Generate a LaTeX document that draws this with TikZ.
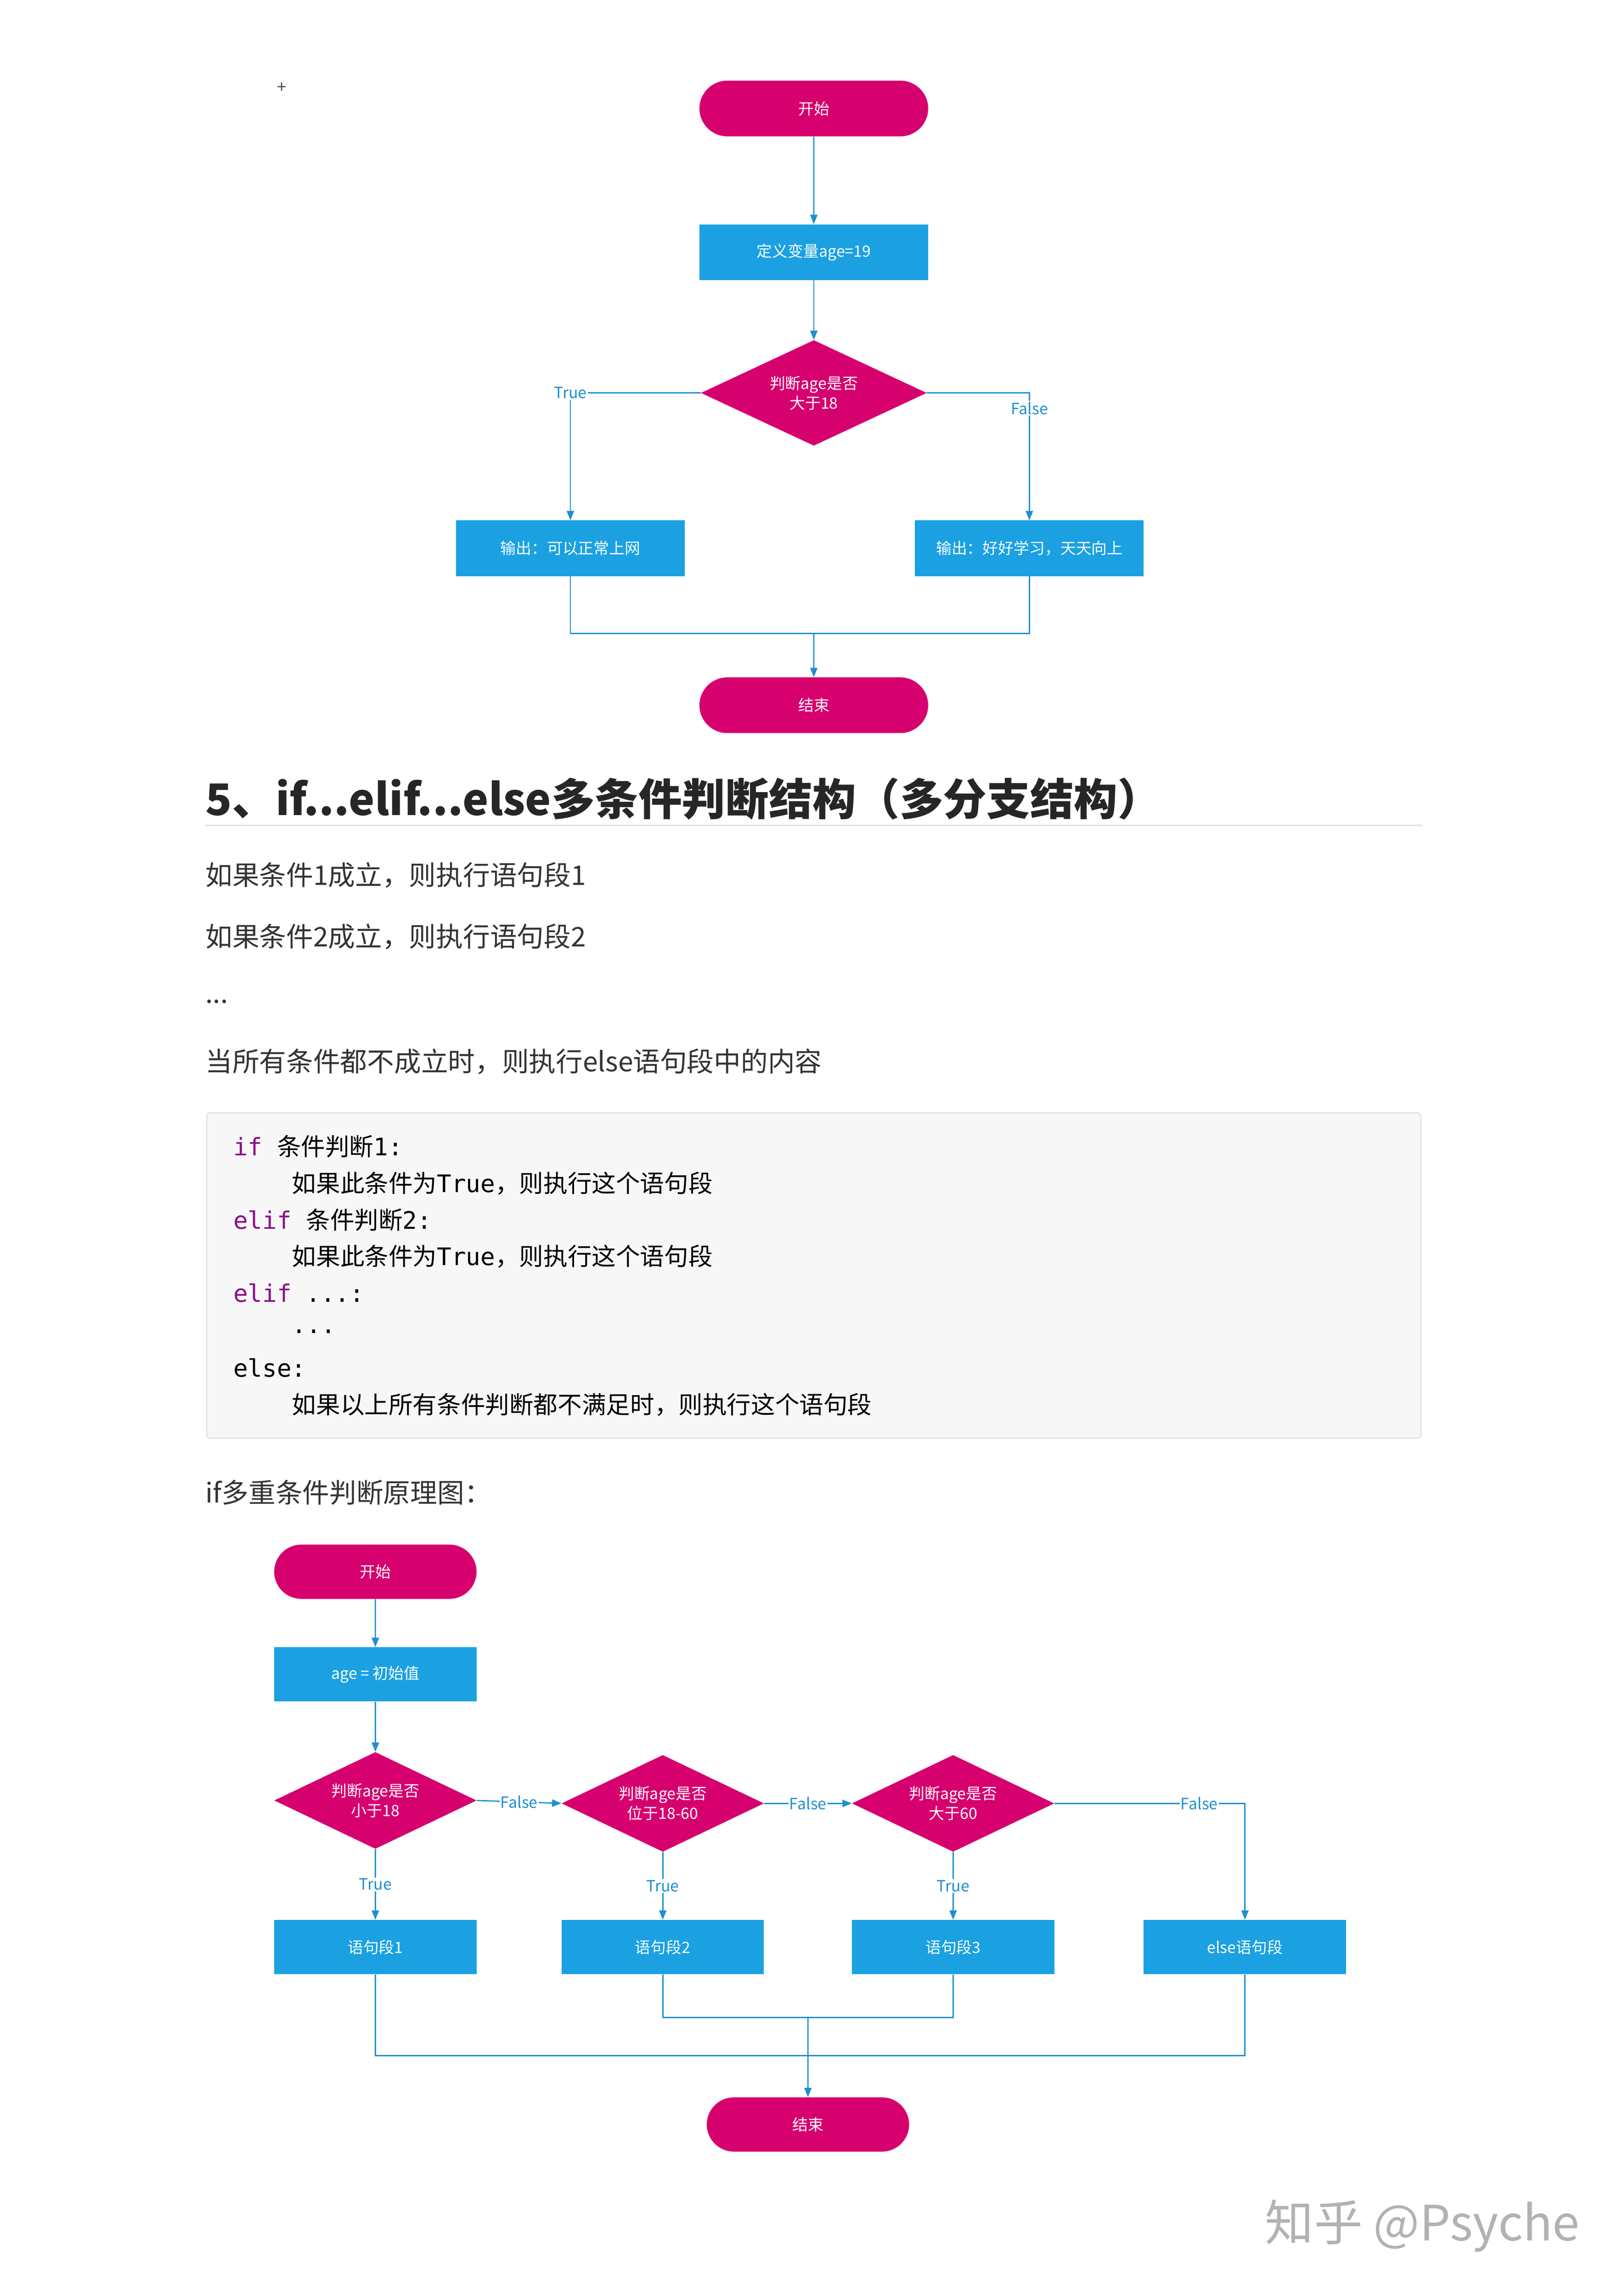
\documentclass[tikz,border=0pt]{standalone}
\usepackage{fontspec}
\setmainfont{Noto Sans CJK SC}
\newfontfamily\cjk{Noto Sans CJK SC}
\setmonofont{DejaVu Sans Mono}
\usetikzlibrary{shapes.geometric,shapes.misc,arrows.meta}
\definecolor{mag}{HTML}{D6006F}
\definecolor{fblue}{HTML}{1BA1E2}
\definecolor{lblue}{HTML}{1E8FCF}
\definecolor{kw}{HTML}{8B0E8B}
\begin{document}
\begin{tikzpicture}[x=0.0497cm,y=-0.0497cm,
  term/.style={rounded rectangle,fill=mag,text=white,minimum width=156*0.0497cm,minimum height=38*0.0497cm,inner sep=0pt,font=\fontsize{15}{18}\selectfont},
  box/.style={rectangle,fill=fblue,text=white,minimum width=156*0.0497cm,minimum height=38*0.0497cm,inner sep=0pt,font=\fontsize{15}{18}\selectfont},
  dec/.style={diamond,fill=mag,text=white,aspect=2.1,minimum width=154*0.0497cm,minimum height=72*0.0497cm,inner sep=0pt,align=center,font=\fontsize{15}{19}\selectfont},
  sterm/.style={term,minimum width=138*0.0497cm,minimum height=37*0.0497cm},
  sbox/.style={box,minimum width=138*0.0497cm,minimum height=37*0.0497cm},
  sdec/.style={dec,minimum width=138*0.0497cm,minimum height=66*0.0497cm},
  ln/.style={draw=lblue,line width=1.2pt},
  ar/.style={ln,-{Triangle[length=9pt,width=7pt]}},
  lab/.style={fill=white,text=lblue,inner sep=1pt,font=\fontsize{15}{18}\selectfont},
  body/.style={anchor=west,inner sep=0pt,text=black!80,font=\fontsize{26}{30}\selectfont},
  code/.style={anchor=west,inner sep=0pt,font=\fontsize{23.3}{28}\selectfont}]
\useasboundingbox (0,0) rectangle (1106.6,1566);
\fill[white] (0,0) rectangle (1106.6,1566);
\node[font=\fontsize{16}{16}\selectfont,text=black!70] (plus) at (192,60) {+};
% top chart
\node[term] (s) at (555,74) {开始};
\node[box] (def) at (555,172) {定义变量age=19};
\node[dec] (d) at (555,268) {判断age是否\\大于18};
\node[box] (o1) at (389,374) {输出：可以正常上网};
\node[box] (o2) at (702,374) {输出：好好学习，天天向上};
\node[term] (e) at (555,481) {结束};
\draw[ar] (s) -- (def);
\draw[ar] (def) -- (d);
\draw[ar] (d.west) -| node[lab,pos=0.5] {True} (o1.north);
\draw[ar] (d.east) -| node[lab,pos=0.56] {False} (o2.north);
\coordinate (j) at (555,432);
\draw[ln] (o1.south) |- (j);
\draw[ln] (o2.south) |- (j);
\draw[ar] (j) -- (e);
% heading
\node[anchor=base west,inner sep=0pt,text=black!85,font=\fontsize{42}{48}\bfseries\selectfont] (h) at (140,556) {5、if...elif...else多条件判断结构（多分支结构）};
\draw[black!12,line width=1pt] (140,563) -- (970,563);
\node[body] (t1) at (140,597) {如果条件1成立，则执行语句段1};
\node[body] (t2) at (140,639) {如果条件2成立，则执行语句段2};
\node[body] (t3) at (140,683) {...};
\node[body] (t4) at (140,724) {当所有条件都不成立时，则执行else语句段中的内容};
% code
\draw[fill=black!3,draw=black!12,line width=1pt,rounded corners=3pt] (141,759) rectangle (969,981);
\node[code] (c1) at (159,782) {\ttfamily\textcolor{kw}{if}\ \cjk 条件判断\ttfamily 1:};
\node[code] (c2) at (199,807) {\cjk 如果此条件为\ttfamily True\cjk ，则执行这个语句段};
\node[code] (c3) at (159,832) {\ttfamily\textcolor{kw}{elif}\ \cjk 条件判断\ttfamily 2:};
\node[code] (c4) at (199,857) {\cjk 如果此条件为\ttfamily True\cjk ，则执行这个语句段};
\node[code] (c5) at (159,882) {\ttfamily\textcolor{kw}{elif}\ ...:};
\node[code] (c6) at (199,908) {\ttfamily ...};
\node[code] (c7) at (159,933) {\ttfamily else:};
\node[code] (c8) at (199,958) {\cjk 如果以上所有条件判断都不满足时，则执行这个语句段};
\node[body] (t5) at (140,1018) {if多重条件判断原理图：};
% bottom chart
\node[sterm] (bs) at (256,1072) {开始};
\node[sbox] (bi) at (256,1142) {age = 初始值};
\node[sdec] (b1) at (256,1228) {判断age是否\\小于18};
\node[sdec] (b2) at (452,1230) {判断age是否\\位于18-60};
\node[sdec] (b3) at (650,1230) {判断age是否\\大于60};
\node[sbox] (p1) at (256,1328) {语句段1};
\node[sbox] (p2) at (452,1328) {语句段2};
\node[sbox] (p3) at (650,1328) {语句段3};
\node[sbox] (p4) at (849,1328) {else语句段};
\node[sterm] (be) at (551,1449) {结束};
\draw[ar] (bs) -- (bi);
\draw[ar] (bi) -- (b1);
\draw[ar] (b1.east) -- node[lab,pos=0.5] {False} (b2.west);
\draw[ar] (b2.east) -- node[lab,pos=0.5] {False} (b3.west);
\draw[ar] (b3.east) -| node[lab,pos=0.38] {False} (p4.north);
\draw[ar] (b1) -- node[lab] {True} (p1);
\draw[ar] (b2) -- node[lab] {True} (p2);
\draw[ar] (b3) -- node[lab] {True} (p3);
\coordinate (k) at (551,1376);
\coordinate (k2) at (551,1402);
\draw[ln] (p2.south) |- (k);
\draw[ln] (p3.south) |- (k);
\draw[ln] (p1.south) |- (k2);
\draw[ln] (p4.south) |- (k2);
\draw[ar] (k) -- (be);
\node[text=black!30,inner sep=0pt,font=\fontsize{47}{50}\selectfont] (wm) at (970,1518) {知乎 @Psyche};
\end{tikzpicture}
\end{document}
